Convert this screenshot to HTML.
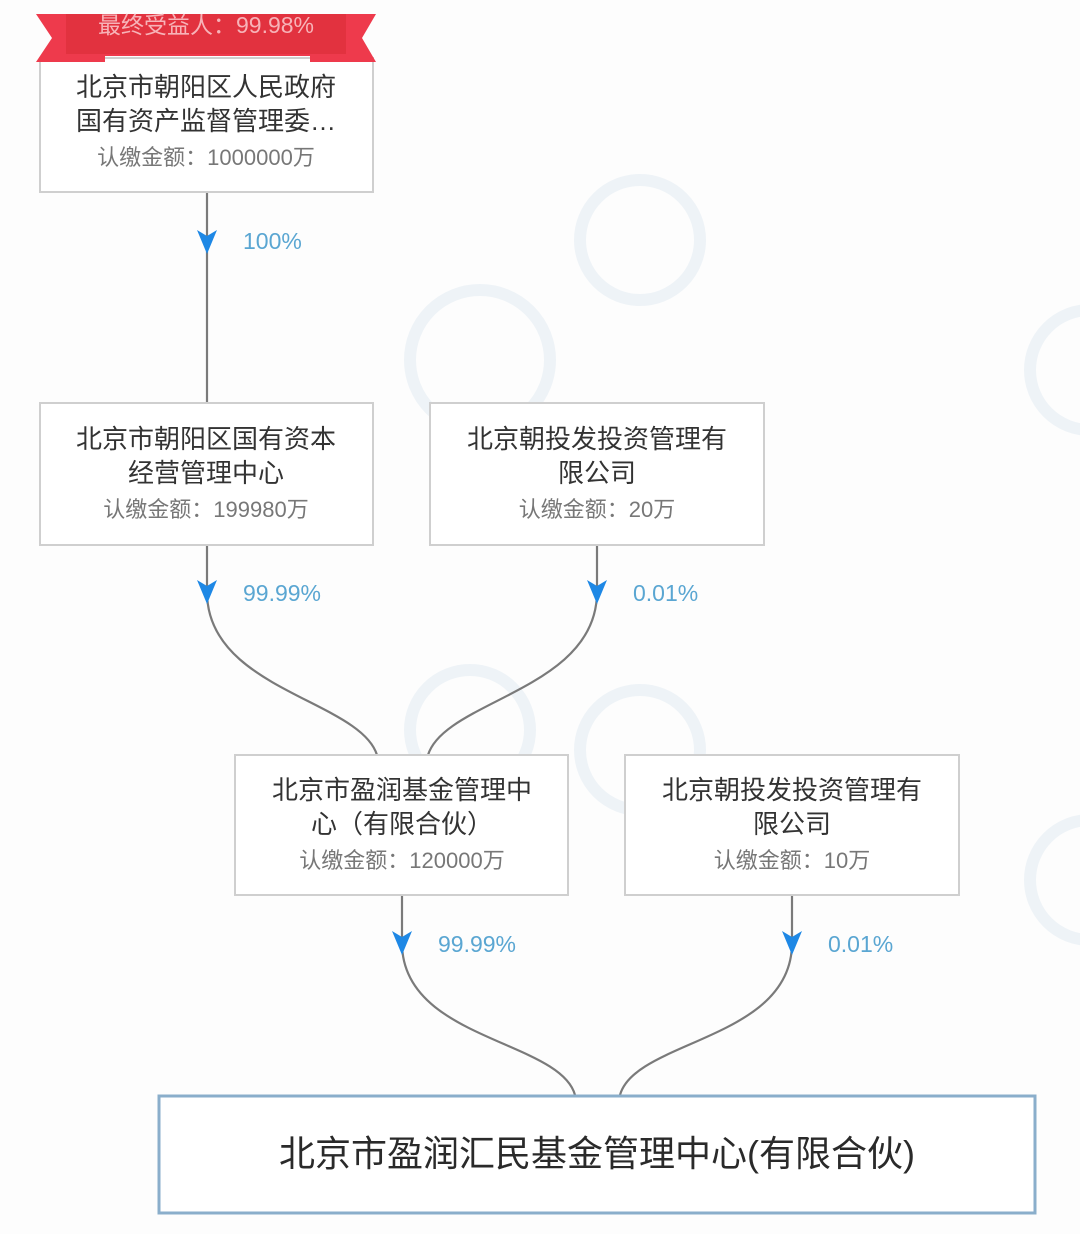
<!DOCTYPE html>
<html><head><meta charset="utf-8"><style>
html,body{margin:0;padding:0;background:#fdfdfd}
text{font-family:"Liberation Sans","Noto Sans CJK SC",sans-serif}
</style></head><body>
<svg width="1080" height="1229" viewBox="0 0 1080 1229" xmlns="http://www.w3.org/2000/svg">
<rect width="1080" height="1229" fill="#fdfdfd"/>
<g fill="none" stroke="#eef3f7" stroke-width="12">
<circle cx="480" cy="360" r="70"/><circle cx="640" cy="240" r="60"/><circle cx="1090" cy="370" r="60"/>
<circle cx="470" cy="730" r="60"/><circle cx="640" cy="750" r="60"/><circle cx="1090" cy="880" r="60"/>
</g>
<g stroke="#7a7a7a" stroke-width="2.2" fill="none">
<line x1="207" y1="192" x2="207" y2="403"/>
<path d="M207 545 L207 592 C207 690 360 700 377 755"/>
<path d="M597 545 L597 592 C597 690 445 700 428 755"/>
<path d="M402 895 L402 943 C402 1040 560 1040 575 1095"/>
<path d="M792 895 L792 943 C792 1040 635 1040 620 1095"/>
</g>
<g fill="#1e88e5">
<path d="M197 230 L207 236 L217 230 L207 254 Z"/>
<path d="M197 580 L207 586 L217 580 L207 604 Z"/>
<path d="M587 580 L597 586 L607 580 L597 604 Z"/>
<path d="M392 931 L402 937 L412 931 L402 955 Z"/>
<path d="M782 931 L792 937 L802 931 L792 955 Z"/>
</g>
<g fill="#5aa6d2" font-size="23">
<text x="243" y="249">100%</text>
<text x="243" y="601">99.99%</text>
<text x="633" y="601">0.01%</text>
<text x="438" y="952">99.99%</text>
<text x="828" y="952">0.01%</text>
</g>
<g fill="#fff" stroke="#cfcfcf" stroke-width="2">
<rect x="40" y="58" width="333" height="134"/>
<rect x="40" y="403" width="333" height="142"/>
<rect x="430" y="403" width="334" height="142"/>
<rect x="235" y="755" width="333" height="140"/>
<rect x="625" y="755" width="334" height="140"/>
</g>
<rect x="159" y="1096" width="876" height="117" fill="#fff" stroke="#8aaecb" stroke-width="3"/>
<path d="M36 14 L376 14 L362 38 L376 62 L310 62 L310 56 L105 56 L105 62 L36 62 L52 38 Z" fill="#ee3a4c"/>
<rect x="66" y="14" width="280" height="40" fill="#e2323f"/>
<text x="206" y="33" text-anchor="middle" font-size="23" fill="#f7b3b8">最终受益人：99.98%</text>
<g text-anchor="middle" fill="#333" font-size="26">
<text x="206" y="96">北京市朝阳区人民政府</text>
<text x="206" y="130">国有资产监督管理委…</text>
<text x="206" y="448">北京市朝阳区国有资本</text>
<text x="206" y="482">经营管理中心</text>
<text x="597" y="448">北京朝投发投资管理有</text>
<text x="597" y="482">限公司</text>
<text x="402" y="799">北京市盈润基金管理中</text>
<text x="402" y="833">心（有限合伙）</text>
<text x="792" y="799">北京朝投发投资管理有</text>
<text x="792" y="833">限公司</text>
<text x="597" y="1166" font-size="36" fill="#2a2a2a">北京市盈润汇民基金管理中心(有限合伙)</text>
</g>
<g text-anchor="middle" fill="#777" font-size="22">
<text x="206" y="165">认缴金额：1000000万</text>
<text x="206" y="517">认缴金额：199980万</text>
<text x="597" y="517">认缴金额：20万</text>
<text x="402" y="868">认缴金额：120000万</text>
<text x="792" y="868">认缴金额：10万</text>
</g>
</svg>
</body></html>
